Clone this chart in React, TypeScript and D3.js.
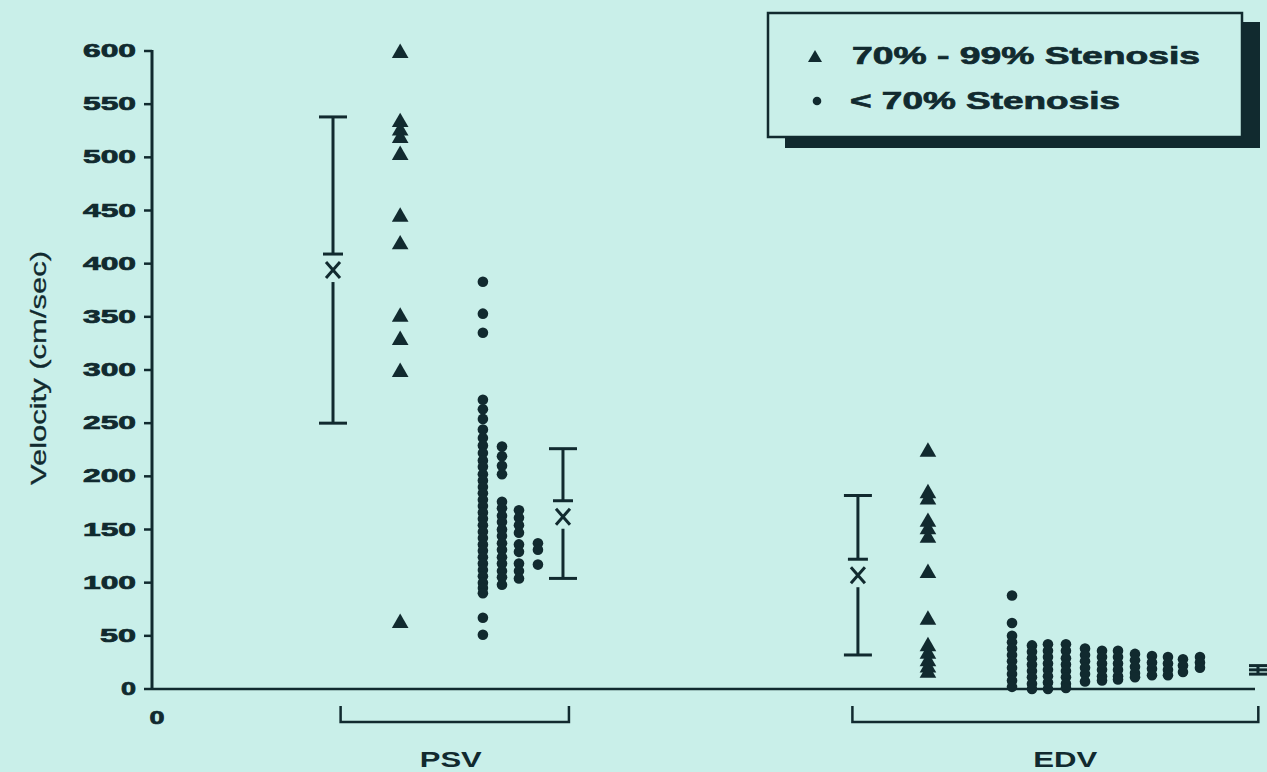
import React from "react";
import * as d3 from "d3";

// ---------- data ----------
const Y_TICKS = [0, 50, 100, 150, 200, 250, 300, 350, 400, 450, 500, 550, 600];
const GROUPS = ["PSV", "EDV"];
// column positions (abstract x units 0..100)
const GROUP_SPANS = [
  [17.1, 37.8],
  [63.5, 100.3],
];
const TRI_X = [22.5, 70.35];
const PSV_TRIANGLES = [598, 533, 525, 518, 502, 444, 418, 350, 328, 298, 62];
const EDV_TRIANGLES = [223, 184, 178, 157, 150, 142, 109, 65, 40, 33, 26, 20, 15];

const PSV_DOT_X = [30.0, 31.73, 33.27, 34.99];
const PSV_DOTS = [
  [383, 353, 335, 272, 263, 254, 244, 236, 229, 222, 215, 209, 202, 196, 190, 184, 178, 172, 166, 160, 154, 148, 142, 136, 130, 124, 118, 112, 106, 100, 95, 90, 67, 51],
  [228, 219, 210, 202, 176, 170, 163, 157, 150, 144, 137, 131, 124, 118, 111, 105, 98],
  [168, 161, 154, 147, 136, 129, 118, 111, 104],
  [137, 131, 117],
];

const EDV_DOT_X = [77.97, 79.78, 81.23, 82.86, 84.59, 86.13, 87.58, 89.12, 90.66, 92.11, 93.47, 95.01];
const EDV_DOTS = [
  [88, 62, 50, 44, 38, 32, 26, 20, 14, 8, 2],
  [41, 35, 29, 23, 17, 11, 5, 0],
  [42, 36, 30, 24, 18, 12, 6, 0],
  [42, 36, 29, 23, 17, 11, 5, 1],
  [38, 32, 26, 20, 14, 7],
  [36, 30, 24, 18, 12, 8],
  [36, 30, 24, 18, 12, 9],
  [33, 27, 21, 15, 11],
  [31, 25, 19, 13],
  [30, 24, 18, 13],
  [28, 22, 16],
  [30, 25, 20],
];

// mean +/- SD markers
const ERR_X = [16.41, 37.26, 64.0, 100.27];
const ERR_MEAN = [394, 162, 107, 18];
const ERR_LOW = [250, 104, 32, 14];
const ERR_HIGH = [538, 226, 182, 22];

const LEGEND_LABELS = ["70% - 99% Stenosis", "< 70% Stenosis"];

// ---------- style ----------
const BG = "#c9efe9";
const INK = "#112a2f";
const FONT = "'Liberation Sans', Arial, sans-serif";

export default function App() {
  const W = 1267;
  const H = 772;
  const x = d3.scaleLinear().domain([0, 100]).range([152, 1255]);
  const y = d3.scaleLinear().domain([0, 600]).range([689, 51]);
  const tri = d3.symbol().type(d3.symbolTriangle).size(120)();
  const triLegend = d3.symbol().type(d3.symbolTriangle).size(85)();

  const tickLen = (s: string) => (s.length === 3 ? 53 : s.length === 2 ? 36 : 15);

  const errBars = ERR_X.map((ex, i) => {
    const cx = x(ex);
    const yh = y(ERR_HIGH[i]);
    const yl = y(ERR_LOW[i]);
    const ym = y(ERR_MEAN[i]);
    if (yl - yh < 30) {
      return (
        <g key={i} stroke={INK} strokeWidth={3} fill="none">
          <line x1={cx} x2={cx} y1={yh} y2={yl} />
          <line x1={cx - 9} x2={cx + 9} y1={yh} y2={yh} />
          <line x1={cx - 9} x2={cx + 9} y1={ym} y2={ym} />
          <line x1={cx - 9} x2={cx + 9} y1={yl} y2={yl} />
        </g>
      );
    }
    return (
      <g key={i} stroke={INK} strokeWidth={3} fill="none">
        <line x1={cx - 14} x2={cx + 14} y1={yh} y2={yh} />
        <line x1={cx} x2={cx} y1={yh} y2={ym - 16} />
        <line x1={cx - 10} x2={cx + 10} y1={ym - 16} y2={ym - 16} />
        <line x1={cx - 7} x2={cx + 7} y1={ym - 8} y2={ym + 8} />
        <line x1={cx + 7} x2={cx - 7} y1={ym - 8} y2={ym + 8} />
        <line x1={cx} x2={cx} y1={ym + 12} y2={yl} />
        <line x1={cx - 14} x2={cx + 14} y1={yl} y2={yl} />
      </g>
    );
  });

  const triSets = [PSV_TRIANGLES, EDV_TRIANGLES];
  const dotSets: [number[], number[][]][] = [
    [PSV_DOT_X, PSV_DOTS],
    [EDV_DOT_X, EDV_DOTS],
  ];

  const boldText = { stroke: INK, strokeWidth: 0.7 };

  return (
    <svg
      width={W}
      height={H}
      style={{ position: "fixed", left: 0, top: 0, background: BG, display: "block" }}
    >
      <rect x={0} y={0} width={W} height={H} fill={BG} />

      {/* y axis */}
      <line x1={x(0)} x2={x(0)} y1={y(600) - 1} y2={y(0) + 1} stroke={INK} strokeWidth={3} />
      {Y_TICKS.map((t) => (
        <g key={t}>
          <line x1={x(0) - 8} x2={x(0)} y1={y(t)} y2={y(t)} stroke={INK} strokeWidth={2.5} />
          <text
            x={136}
            y={y(t)}
            textAnchor="end"
            dominantBaseline="central"
            fontFamily={FONT}
            fontWeight="bold"
            fontSize={18}
            fill={INK}
            {...boldText}
            textLength={tickLen(String(t))}
            lengthAdjust="spacingAndGlyphs"
          >
            {t}
          </text>
        </g>
      ))}
      <text
        transform={`translate(46, 368) rotate(-90)`}
        textAnchor="middle"
        fontFamily={FONT}
        fontSize={22}
        fill={INK}
        stroke={INK}
        strokeWidth={0.3}
        textLength={234}
        lengthAdjust="spacingAndGlyphs"
      >
        Velocity (cm/sec)
      </text>

      {/* x axis */}
      <line x1={x(0)} x2={x(100)} y1={y(0)} y2={y(0)} stroke={INK} strokeWidth={2.5} />
      <text
        x={x(0) + 5}
        y={724}
        textAnchor="middle"
        fontFamily={FONT}
        fontWeight="bold"
        fontSize={18}
        fill={INK}
        {...boldText}
        textLength={15}
        lengthAdjust="spacingAndGlyphs"
      >
        0
      </text>

      {/* group brackets */}
      {GROUPS.map((g, i) => {
        const x0 = x(GROUP_SPANS[i][0]);
        const x1 = x(GROUP_SPANS[i][1]);
        return (
          <g key={g}>
            <path
              d={`M${x0},706 V722 H${x1} V706`}
              fill="none"
              stroke={INK}
              strokeWidth={2.5}
            />
            <text
              x={(x0 + x1) / 2 + (i === 0 ? -4 : 10)}
              y={767}
              textAnchor="middle"
              fontFamily={FONT}
              fontWeight="bold"
              fontSize={22}
              fill={INK}
              textLength={i === 0 ? 62 : 64}
              lengthAdjust="spacingAndGlyphs"
            >
              {g}
            </text>
          </g>
        );
      })}

      {/* error bars */}
      {errBars}

      {/* triangles */}
      {triSets.map((set, gi) =>
        set.map((v, j) => (
          <path
            key={`t${gi}-${j}`}
            d={tri}
            transform={`translate(${x(TRI_X[gi])},${y(v)})`}
            fill={INK}
          />
        ))
      )}

      {/* dots */}
      {dotSets.map(([xs, cols], gi) =>
        cols.map((col, ci) =>
          col.map((v, j) => (
            <circle
              key={`d${gi}-${ci}-${j}`}
              cx={x(xs[ci])}
              cy={y(v)}
              r={5.3}
              fill={INK}
            />
          ))
        )
      )}

      {/* legend */}
      <rect x={785} y={22} width={475} height={126} fill={INK} />
      <rect x={768} y={13} width={474} height={124} fill={BG} stroke={INK} strokeWidth={2.5} />
      <path d={triLegend} transform="translate(815,58)" fill={INK} />
      <circle cx={817} cy={101} r={4.3} fill={INK} />
      <text
        x={852}
        y={64}
        fontFamily={FONT}
        fontWeight="bold"
        fontSize={24}
        fill={INK}
        {...boldText}
        textLength={348}
        lengthAdjust="spacingAndGlyphs"
      >
        {LEGEND_LABELS[0]}
      </text>
      <text
        x={850}
        y={109}
        fontFamily={FONT}
        fontWeight="bold"
        fontSize={24}
        fill={INK}
        {...boldText}
        textLength={270}
        lengthAdjust="spacingAndGlyphs"
      >
        {LEGEND_LABELS[1]}
      </text>
    </svg>
  );
}
